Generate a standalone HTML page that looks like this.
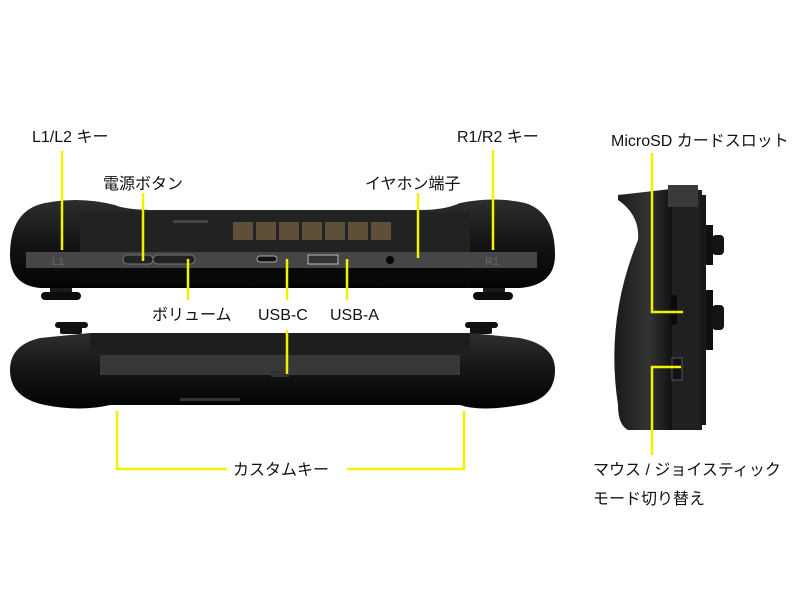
<!DOCTYPE html>
<html><head><meta charset="utf-8"><style>
html,body{margin:0;padding:0;background:#fff;}
svg{display:block}
text{font-family:"Liberation Sans","Noto Sans CJK JP",sans-serif;font-size:16px;fill:#111}
</style></head><body>
<svg width="800" height="600" viewBox="0 0 800 600" xmlns="http://www.w3.org/2000/svg">
<defs>
<linearGradient id="g1" x1="0" y1="0" x2="0" y2="1">
<stop offset="0" stop-color="#2e2e2e"/><stop offset="0.5" stop-color="#141414"/><stop offset="1" stop-color="#030303"/></linearGradient>
<linearGradient id="g2" x1="0" y1="0" x2="1" y2="0">
<stop offset="0" stop-color="#1a1a1a"/><stop offset="0.4" stop-color="#333"/><stop offset="0.7" stop-color="#0e0e0e"/><stop offset="1" stop-color="#1a1a1a"/></linearGradient>
</defs>
<!-- top device -->
<g>
<rect x="50" y="285" width="22" height="8" rx="2" fill="#1a1a1a"/>
<rect x="41" y="292" width="40" height="8" rx="4" fill="#0c0c0c"/>
<rect x="483" y="285" width="22" height="8" rx="2" fill="#1a1a1a"/>
<rect x="473" y="292" width="40" height="8" rx="4" fill="#0c0c0c"/>
<path d="M10 255 Q10 210 45 203 Q80 196 115 205 Q125 210 160 210 L420 210 Q445 210 460 203 Q495 196 525 203 Q555 212 555 255 Q555 285 520 288 L40 288 Q10 285 10 255Z" fill="url(#g1)"/>
<rect x="80" y="212" width="390" height="42" fill="#222"/>
<rect x="26" y="252" width="511" height="16" fill="#464646"/>
<rect x="80" y="268" width="390" height="17" fill="#080808"/>
<g fill="#5e5038">
<rect x="233" y="222" width="20" height="18"/><rect x="256" y="222" width="20" height="18"/><rect x="279" y="222" width="20" height="18"/><rect x="302" y="222" width="20" height="18"/><rect x="325" y="222" width="20" height="18"/><rect x="348" y="222" width="20" height="18"/><rect x="371" y="222" width="20" height="18"/>
</g>
<rect x="173" y="220" width="35" height="3" fill="#444"/>
<rect x="123" y="255" width="30" height="9" rx="4.5" fill="#222" stroke="#777"/>
<rect x="153" y="255" width="42" height="9" rx="4.5" fill="#222" stroke="#777"/>
<rect x="257" y="256" width="20" height="6" rx="3" fill="#111" stroke="#aaa"/>
<rect x="308" y="255" width="30" height="9" fill="#333" stroke="#bbb"/>
<circle cx="390" cy="260" r="4" fill="#050505"/>
<text x="52" y="265" style="font-size:11px;fill:#666">L1</text>
<text x="485" y="265" style="font-size:11px;fill:#666">R1</text>
</g>
<!-- bottom device -->
<g>
<rect x="60" y="326" width="22" height="8" rx="2" fill="#111"/>
<rect x="55" y="322" width="33" height="6" rx="3" fill="#111"/>
<rect x="470" y="326" width="22" height="8" rx="2" fill="#111"/>
<rect x="465" y="322" width="33" height="6" rx="3" fill="#111"/>
<path d="M10 370 Q10 345 40 338 L90 333 L470 333 L520 338 Q555 345 555 370 Q555 400 520 405 Q480 412 460 405 L110 405 Q80 412 45 405 Q10 398 10 370Z" fill="url(#g1)"/>
<rect x="90" y="333" width="380" height="20" fill="#1e1e1e"/>
<rect x="100" y="355" width="360" height="20" fill="#383838"/>
<rect x="270" y="371" width="20" height="6" rx="3" fill="#333"/>
<rect x="180" y="398" width="60" height="3" fill="#333"/>
</g>
<!-- side device -->
<g>
<path d="M618 195 L680 188 L700 195 L700 430 L628 430 Q618 425 618 405 Q605 320 638 240 Q640 215 618 200Z" fill="url(#g2)"/>
<rect x="672" y="190" width="30" height="240" fill="#202020"/>
<rect x="668" y="185" width="30" height="22" fill="#3a3a3a"/>
<rect x="705" y="225" width="8" height="40" fill="#111"/>
<rect x="712" y="235" width="12" height="20" rx="4" fill="#151515"/>
<rect x="705" y="290" width="8" height="60" fill="#111"/>
<rect x="712" y="305" width="12" height="25" rx="4" fill="#151515"/>
<rect x="700" y="195" width="6" height="230" fill="#181818"/>
<rect x="671" y="295" width="6" height="30" rx="3" fill="#0a0a0a"/>
<rect x="672" y="358" width="10" height="22" fill="#111" stroke="#666" stroke-width="0.8"/>
</g>
<!-- leader lines -->
<g stroke="#f2f200" stroke-width="2.5" fill="none">
<line x1="62" y1="151" x2="62" y2="250"/>
<line x1="143" y1="193" x2="143" y2="261"/>
<line x1="418" y1="193" x2="418" y2="258"/>
<line x1="493" y1="150" x2="493" y2="250"/>
<line x1="188" y1="259" x2="188" y2="300"/>
<line x1="287" y1="259" x2="287" y2="300"/>
<line x1="347" y1="259" x2="347" y2="300"/>
<line x1="287" y1="330" x2="287" y2="374"/>
<polyline points="117,411 117,469 227,469"/>
<polyline points="347,469 464,469 464,411"/>
<polyline points="652,153 652,312 683,312"/>
<polyline points="681,367 652,367 652,455"/>
</g>
<!-- labels -->
<text x="32" y="142">L1/L2 キー</text>
<text x="103" y="189">電源ボタン</text>
<text x="365" y="189">イヤホン端子</text>
<text x="457" y="142">R1/R2 キー</text>
<text x="152" y="320">ボリューム</text>
<text x="258" y="320">USB-C</text>
<text x="330" y="320">USB-A</text>
<text x="233" y="475">カスタムキー</text>
<text x="611" y="146">MicroSD カードスロット</text>
<text x="593" y="475">マウス / ジョイスティック</text>
<text x="593" y="504">モード切り替え</text>
</svg>
</body></html>
